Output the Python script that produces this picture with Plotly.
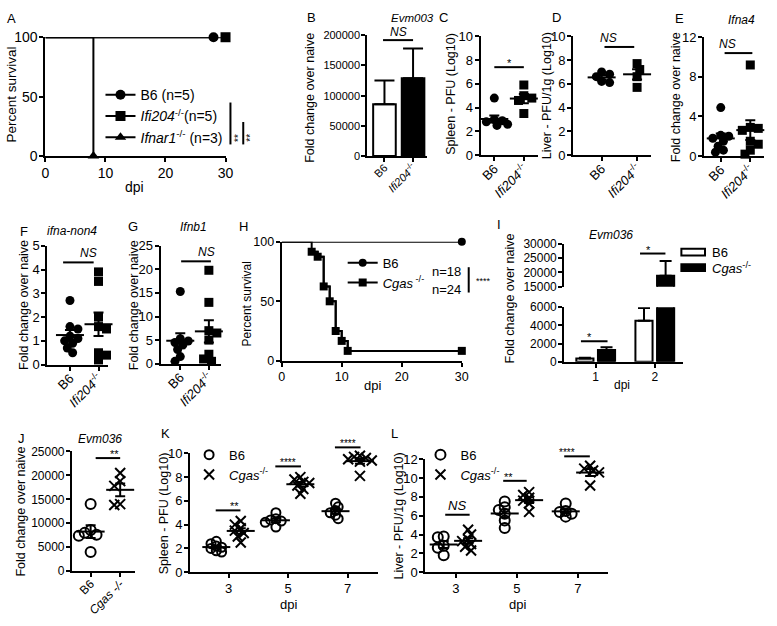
import numpy as np
import plotly.graph_objects as go

W, H = 777, 626
FONT = "Liberation Sans, Arial, Helvetica, sans-serif"

# ---------------- data ----------------
# A: survival (Ifi204 study)
a_b6_t = [0, 28]
a_b6_s = [100, 100]
a_ifi_t = [0, 30]
a_ifi_s = [100, 100]
a_ifnar_t = [0, 8]
a_ifnar_s = [100, 0]

# B: Evm003 fold change, mean and SEM
b_mean = [86000, 129000]
b_sem = [39000, 49000]

ifi_ticks = ["B6", "<i>Ifi204</i><sup>-/-</sup>"]
cgas_ticks = ["B6", "<i>Cgas -/-</i>"]

# C: spleen PFU (log10)
c_b6 = [4.8, 3.0, 2.8, 2.7, 2.6, 2.5, 2.9]
c_ifi = [5.9, 5.0, 4.8, 4.6, 3.5]
# D: liver PFU/1g (log10)
d_b6 = [7.0, 6.8, 6.6, 6.2, 6.1]
d_ifi = [7.7, 7.2, 6.6, 5.7]
# E: Ifna4
e_b6 = [4.9, 2.1, 2.0, 1.8, 1.5, 1.0, 0.6, 0.4]
e_ifi = [9.2, 2.9, 2.8, 2.6, 1.5, 1.2, 0.6, 0.2]
# F: ifna-non4
f_b6 = [2.7, 1.6, 1.5, 1.2, 1.1, 1.0, 0.9, 0.7, 0.5]
f_ifi = [3.9, 3.5, 2.0, 1.6, 1.5, 0.5, 0.4, 0.2]
# G: Ifnb1
g_b6 = [15.3, 5.3, 4.8, 4.5, 4.0, 3.0, 1.5, 0.5]
g_ifi = [19.8, 13.0, 7.0, 6.5, 5.0, 2.0, 1.0, 0.5]

# H: survival (Cgas study)
h_b6_t = [0, 30]
h_b6_s = [100, 100]
h_cgas_t = [0, 5, 6, 7, 8, 9, 10, 11, 30]
h_cgas_s = [100, 91.7, 87.5, 62.5, 50, 25, 16.7, 8.3, 8.3]

# I: Evm036 by dpi, mean and SEM
i_dpi = [1, 2]
i_b6_mean = [350, 4500]
i_b6_sem = [100, 1400]
i_cgas_mean = [1300, 18800]
i_cgas_sem = [300, 5200]

# J: Evm036
j_b6 = [14000, 8600, 8000, 7600, 7400, 4000]
j_cgas = [20500, 18800, 17800, 14000, 13800]

# K: spleen PFU by dpi
k_dpi = [3, 5, 7]
k_b6 = [[2.6, 2.4, 2.2, 2.1, 2.0, 1.8, 1.7],
        [5.0, 4.5, 4.4, 4.3, 4.2, 3.8],
        [5.8, 5.5, 5.2, 5.0, 4.8, 4.5]]
k_cgas = [[4.3, 4.0, 3.7, 3.5, 3.3, 3.0, 2.5],
          [8.0, 7.8, 7.6, 7.5, 7.3, 7.0, 6.6],
          [9.8, 9.7, 9.6, 9.5, 9.4, 9.3, 8.1]]
# L: liver PFU/1g by dpi
l_dpi = [3, 5, 7]
l_b6 = [[3.8, 3.7, 2.8, 2.6, 1.8],
        [7.5, 6.9, 6.6, 6.2, 5.5, 4.7],
        [7.3, 6.5, 6.4, 6.2, 5.9]]
l_cgas = [[4.5, 4.0, 3.5, 3.3, 3.0, 2.7, 2.3],
          [8.5, 8.2, 7.9, 7.6, 7.3, 6.4],
          [11.3, 11.0, 10.8, 10.6, 9.2]]

# ---------------- helpers ----------------
fig = go.Figure()
layout = dict(width=W, height=H, margin=dict(l=0, r=0, t=0, b=0),
              paper_bgcolor="white", plot_bgcolor="white", barmode="overlay",
              font=dict(family=FONT, color="black"), showlegend=True)
shapes, annots = [], []
geom = {}


def nm(n):
    return "" if n == 1 else str(n)


def base_axis(fs):
    return dict(showline=True, linecolor="black", linewidth=2, ticks="outside",
                ticklen=4, tickwidth=2, tickcolor="black", showgrid=False,
                zeroline=False, fixedrange=True, ticklabelstandoff=-1,
                tickfont=dict(family=FONT, size=fs, color="black"))


def make_axes(n, xpx, ypx, xr, yr, fs, xkw=None, ykw=None):
    xa = base_axis(fs)
    xa.update(domain=[xpx[0] / W, xpx[1] / W], range=xr, anchor="y" + nm(n))
    ya = base_axis(fs)
    ya.update(domain=[1 - ypx[1] / H, 1 - ypx[0] / H], range=yr, anchor="x" + nm(n))
    if xkw:
        xa.update(xkw)
    if ykw:
        ya.update(ykw)
    layout["xaxis" + nm(n)] = xa
    layout["yaxis" + nm(n)] = ya
    geom["x" + nm(n)] = (xpx, xr)
    geom["y" + nm(n)] = (ypx, yr)
    return (xpx[1] - xpx[0]) / (xr[1] - xr[0]), (ypx[1] - ypx[0]) / (yr[1] - yr[0])


def to_paper_x(ax, v):
    (p0, p1), (r0, r1) = geom[ax]
    return (p0 + (v - r0) / (r1 - r0) * (p1 - p0)) / W


def to_paper_y(ax, v):
    (top, bot), (r0, r1) = geom[ax]
    return 1 - (bot - (v - r0) / (r1 - r0) * (bot - top)) / H


def swarm(vals, center, xpx, ypx, size, gap=0.72):
    mind = size * gap
    step = size * 0.3
    placed = []
    out = [0.0] * len(vals)
    order = sorted(range(len(vals)), key=lambda i: -vals[i])
    for i in order:
        yy = vals[i] * ypx
        k = 0
        chosen = None
        while chosen is None:
            cands = [0.0] if k == 0 else ([k * step, -k * step] if k % 2 else [-k * step, k * step])
            for off in cands:
                if all((off - px) ** 2 + (yy - py) ** 2 >= mind ** 2 for px, py in placed):
                    chosen = off
                    break
            k += 1
        placed.append((chosen, yy))
        out[i] = center + chosen / xpx
    return out


def dots(n, groups, positions, markers, xpx, ypx, mean_w=20, cap=5, gap=0.72):
    xa, ya = "x" + nm(n), "y" + nm(n)
    for vals, pos, mk in zip(groups, positions, markers):
        xs = swarm(vals, pos, xpx, ypx, mk["size"], gap)
        fig.add_trace(go.Scatter(x=xs, y=vals, mode="markers", marker=mk, xaxis=xa, yaxis=ya,
                                 cliponaxis=False, showlegend=False, hoverinfo="skip"))
    for vals, pos in zip(groups, positions):
        v = np.asarray(vals, float)
        m = v.mean()
        se = v.std(ddof=1) / np.sqrt(len(v))
        fig.add_trace(go.Scatter(
            x=[pos], y=[m], mode="markers",
            marker=dict(symbol="line-ew", size=mean_w, color="black", line=dict(width=2, color="black")),
            error_y=dict(type="data", array=[se], color="black", thickness=2, width=cap),
            xaxis=xa, yaxis=ya, cliponaxis=False, showlegend=False, hoverinfo="skip"))


def survival(n, t, s, mk, name, legend):
    xa, ya = "x" + nm(n), "y" + nm(n)
    fig.add_trace(go.Scatter(x=t, y=s, mode="lines", line=dict(shape="hv", color="black", width=2),
                             xaxis=xa, yaxis=ya, cliponaxis=False, showlegend=False, hoverinfo="skip"))
    fig.add_trace(go.Scatter(x=t[1:], y=s[1:], mode="lines+markers",
                             line=dict(shape="hv", color="black", width=2), marker=mk,
                             xaxis=xa, yaxis=ya, cliponaxis=False, name=name, legend=legend,
                             showlegend=True, hoverinfo="skip"))


def text(s, x, y, size=12, angle=0, xanchor="center", yanchor="middle"):
    annots.append(dict(x=x / W, y=1 - y / H, xref="paper", yref="paper", text=s, showarrow=False,
                       font=dict(size=size, family=FONT, color="black"), textangle=angle,
                       xanchor=xanchor, yanchor=yanchor))


def sig(n, x0, x1, y, label, size=11, yaxis=None, shift=-4):
    xr = "x" + nm(n)
    yr = yaxis if yaxis else "y" + nm(n)
    X0, X1, Y = to_paper_x(xr, x0), to_paper_x(xr, x1), to_paper_y(yr, y)
    shapes.append(dict(type="line", xref="paper", yref="paper", x0=X0, x1=X1, y0=Y, y1=Y,
                       line=dict(color="black", width=2)))
    annots.append(dict(x=(X0 + X1) / 2, y=Y, xref="paper", yref="paper", text=label, showarrow=False,
                       yanchor="bottom", yshift=shift, font=dict(size=size, family=FONT, color="black")))


def pline(x0, y0, x1, y1):
    shapes.append(dict(type="line", xref="paper", yref="paper", x0=x0 / W, x1=x1 / W,
                       y0=1 - y0 / H, y1=1 - y1 / H, line=dict(color="black", width=2)))


CIRC = dict(symbol="circle", size=9, color="black")
SQR = dict(symbol="square", size=9, color="black")
TRI = dict(symbol="triangle-up", size=10, color="black")
OCIRC = dict(symbol="circle-open", size=10, color="black", line=dict(width=2, color="black"))
XMK = dict(symbol="x-thin-open", size=10, color="black", line=dict(width=2, color="black"))
cat_x = lambda ticks: dict(tickvals=[0, 1], ticktext=ticks, tickangle=-45, ticklabelstandoff=-5)

# ---------------- A ----------------
make_axes(1, (42, 225), (30, 152), [0, 30], [0, 100], 14,
          dict(tickvals=[0, 10, 20, 30]), dict(tickvals=[0, 50, 100]))
survival(1, a_b6_t, a_b6_s, dict(CIRC, size=10), "B6 (n=5)", "legend")
survival(1, a_ifi_t, a_ifi_s, dict(SQR, size=10), "<i>Ifi204</i><sup>-/-</sup>(n=5)", "legend")
survival(1, a_ifnar_t, a_ifnar_s, TRI, "<i>Ifnar1</i><sup>-/-</sup> (n=3)", "legend")
pline(230, 97, 230, 140)
pline(243, 117, 243, 140)
text("**", 238, 133, 10, -90)
text("**", 250, 133, 10, -90)

# ---------------- B ----------------
make_axes(2, (369, 430), (28, 152), [-0.6, 1.5], [0, 200000], 11,
          cat_x(ifi_ticks), dict(tickvals=[0, 50000, 100000, 150000, 200000], tickformat="d"))
fig.add_trace(go.Bar(x=[0, 1], y=b_mean, width=0.79,
                     marker=dict(color=["white", "black"], line=dict(color="black", width=2)),
                     error_y=dict(type="data", array=b_sem, arrayminus=[0, 0], symmetric=False,
                                  color="black", thickness=2, width=10),
                     xaxis="x2", yaxis="y2", showlegend=False, hoverinfo="skip"))
sig(2, -0.05, 1.0, 192000, "<i>NS</i>", 12, shift=-1)

# ---------------- C ----------------
px, py = make_axes(3, (484, 542), (29, 151), [-0.467, 1.467], [0, 10], 13,
                   cat_x(ifi_ticks), dict(dtick=2))
dots(3, [c_b6, c_ifi], [0, 1], [CIRC, SQR], px, py)
sig(3, 0.0, 1.0, 7.4, "*")

# ---------------- D ----------------
px, py = make_axes(4, (578, 657), (29, 151), [-0.806, 1.389], [0, 10], 13,
                   cat_x(ifi_ticks), dict(dtick=2))
dots(4, [d_b6, d_ifi], [0, 1], [CIRC, SQR], px, py)
sig(4, 0.08, 0.92, 9.1, "<i>NS</i>", 12, shift=0)

# ---------------- E ----------------
px, py = make_axes(5, (711, 772), (30, 152), [-0.567, 1.467], [0, 12], 13,
                   cat_x(ifi_ticks), dict(dtick=4))
dots(5, [e_b6, e_ifi], [0, 1], [CIRC, SQR], px, py)
sig(5, 0.13, 1.07, 10.4, "<i>NS</i>", 12, shift=0)

# ---------------- F ----------------
px, py = make_axes(6, (44, 106), (244, 366), [-0.793, 1.345], [0, 5], 13,
                   cat_x(ifi_ticks), dict(dtick=1))
dots(6, [f_b6, f_ifi], [0, 1], [CIRC, SQR], px, py)
sig(6, -0.24, 0.83, 4.3, "<i>NS</i>", 12, shift=0)

# ---------------- G ----------------
px, py = make_axes(7, (159, 220), (244, 365), [-0.69, 1.41], [0, 25], 13,
                   cat_x(ifi_ticks), dict(dtick=5))
dots(7, [g_b6, g_ifi], [0, 1], [CIRC, SQR], px, py)
sig(7, 0.03, 1.07, 21.7, "<i>NS</i>", 12, shift=0)

# ---------------- H ----------------
make_axes(8, (282, 465), (240, 362), [0, 30], [0, 100], 12.5,
          dict(tickvals=[0, 10, 20, 30]), dict(tickvals=[0, 50, 100]))
survival(8, h_b6_t, h_b6_s, dict(CIRC, size=8), "B6", "legend2")
survival(8, h_cgas_t, h_cgas_s, dict(SQR, size=8), "<i>Cgas</i><sup> -/-</sup>", "legend2")
text("n=18", 466, 270, 13, xanchor="right")
text("n=24", 466, 289, 13, xanchor="right")
pline(472, 266, 472, 292)
text("****", 477, 280, 9, xanchor="left")

# ---------------- I (broken axis) ----------------
make_axes(9, (569, 690), (307, 363), [0.467, 2.483], [0, 6000], 12,
          dict(tickvals=i_dpi), dict(tickvals=[0, 2000, 4000, 6000], tickformat="d"))
ya13 = base_axis(12)
ya13.update(domain=[1 - 286 / H, 1 - 242 / H], range=[15000, 30000], anchor="x9",
            tickvals=[15000, 20000, 25000, 30000], tickformat="d")
layout["yaxis13"] = ya13
geom["y13"] = ((242, 286), (15000, 30000))
for means, sems, off, col in [(i_b6_mean, i_b6_sem, -0.183, "white"),
                              (i_cgas_mean, i_cgas_sem, 0.183, "black")]:
    for yax in ["y9", "y13"]:
        fig.add_trace(go.Bar(x=[d + off for d in i_dpi], y=means, width=0.29,
                             marker=dict(color=col, line=dict(color="black", width=2)),
                             error_y=dict(type="data", array=sems, arrayminus=[0, 0], symmetric=False,
                                          color="black", thickness=2, width=6),
                             xaxis="x9", yaxis=yax, showlegend=False, hoverinfo="skip"))
sig(9, 0.75, 1.2, 2250, "*")
sig(9, 1.75, 2.18, 26600, "*", yaxis="y13")
shapes.append(dict(type="rect", xref="paper", yref="paper", x0=688 / W, x1=712 / W,
                   y0=1 - 254 / H, y1=1 - 247 / H, fillcolor="white", line=dict(color="black", width=2)))
shapes.append(dict(type="rect", xref="paper", yref="paper", x0=688 / W, x1=712 / W,
                   y0=1 - 270 / H, y1=1 - 263 / H, fillcolor="black", line=dict(color="black", width=2)))
text("B6", 717, 251, 13, xanchor="left")
text("<i>Cgas</i><sup>-/-</sup>", 717, 267, 13, xanchor="left")

# ---------------- J ----------------
px, py = make_axes(10, (69, 133), (455, 578), [-0.633, 1.5], [0, 25000], 12,
                   cat_x(cgas_ticks), dict(dtick=5000, tickformat="d"))
dots(10, [j_b6, j_cgas], [0, 1], [OCIRC, XMK], px, py, gap=0.6)
sig(10, 0.17, 1.0, 23600, "**")

# ---------------- K ----------------
px, py = make_axes(11, (189, 380), (457, 579), [1.71, 8.02], [0, 10], 13,
                   dict(tickvals=k_dpi), dict(dtick=2))
dots(11, k_b6, [d - 0.41 for d in k_dpi], [dict(OCIRC, size=9)] * 3, px, py, gap=0.5)
dots(11, k_cgas, [d + 0.41 for d in k_dpi], [XMK] * 3, px, py, gap=0.5)
sig(11, 2.57, 3.4, 5.2, "**")
sig(11, 4.57, 5.43, 8.9, "****", 10)
sig(11, 6.57, 7.43, 10.5, "****", 10)
for nm_, mk in [("B6", dict(OCIRC, size=9)), ("<i>Cgas</i><sup>-/-</sup>", XMK)]:
    fig.add_trace(go.Scatter(x=[None], y=[None], mode="markers", marker=mk, name=nm_,
                             xaxis="x11", yaxis="y11", legend="legend3"))

# ---------------- L ----------------
px, py = make_axes(12, (428, 613), (463, 579), [2.0, 7.97], [0, 12], 13,
                   dict(tickvals=l_dpi), dict(dtick=2))
dots(12, l_b6, [d - 0.4 for d in l_dpi], [OCIRC] * 3, px, py, gap=0.5)
dots(12, l_cgas, [d + 0.4 for d in l_dpi], [XMK] * 3, px, py, gap=0.5)
sig(12, 2.65, 3.45, 6.1, "<i>NS</i>", 13, shift=0)
sig(12, 4.55, 5.32, 9.7, "**")
sig(12, 6.55, 7.39, 12.3, "****", 10)
for nm_, mk in [("B6", OCIRC), ("<i>Cgas</i><sup>-/-</sup>", XMK)]:
    fig.add_trace(go.Scatter(x=[None], y=[None], mode="markers", marker=mk, name=nm_,
                             xaxis="x12", yaxis="y12", legend="legend4"))

# ---------------- legends ----------------
leg = lambda x, y, fs: dict(x=x / W, y=1 - y / H, xanchor="left", yanchor="top",
                            bgcolor="rgba(0,0,0,0)", borderwidth=0, tracegroupgap=0,
                            font=dict(size=fs, family=FONT, color="black"))
layout["legend"] = leg(98, 73, 14)
layout["legend2"] = leg(344, 246, 13)
layout["legend3"] = leg(188, 443, 13)
layout["legend4"] = leg(423, 443, 13)

# ---------------- labels ----------------
for s, x, y in [("A", 8, 11), ("B", 312, 10), ("C", 446, 10), ("D", 561, 10), ("E", 686, 11),
                ("F", 20, 229), ("G", 131, 224), ("H", 243, 224), ("I", 503, 222),
                ("J", 18, 442), ("K", 164, 437), ("L", 397, 437)]:
    text(s, x, y, 13)
for s, x, y, fs in [("Evm003", 415, 10, 11.5), ("Ifna4", 749, 12, 12), ("ifna-non4", 69, 229, 12),
                    ("Ifnb1", 192, 225, 12), ("Evm036", 617, 233, 12), ("Evm036", 97, 442, 12)]:
    text("<i>" + s + "</i>", x, y, fs)
for s, x, y, fs in [("Percent survival", 8, 89, 13.5), ("Fold change over naive", 310, 92, 12.5),
                    ("Spleen - PFU (Log10)", 454, 88, 12.5), ("Liver - PFU/1g (Log10)", 551, 90, 12.5),
                    ("Fold change over naive", 682, 91, 12.5), ("Fold change over naive", 21, 305, 12.5),
                    ("Fold change over naive", 132, 305, 12.5), ("Percent survival", 247, 304, 12),
                    ("Fold change over naive", 514, 298, 12.5), ("Fold change over naive", 17, 517, 12.5),
                    ("Spleen - PFU (Log10)", 162, 518, 12.5), ("Liver - PFU/1g (Log10)", 401, 521, 12.5)]:
    text(s, x, y, fs, -90)
for x, y, fs in [(133, 184, 14), (374, 387, 13), (628, 387, 12), (289, 612, 13), (522, 612, 13)]:
    text("dpi", x, y, fs)

layout["shapes"] = shapes
layout["annotations"] = annots
fig.update_layout(**layout)
fig.write_html("out.html", config={"displayModeBar": False, "staticPlot": True},
               post_script="document.body.style.margin='0';document.body.style.overflow='hidden';")
